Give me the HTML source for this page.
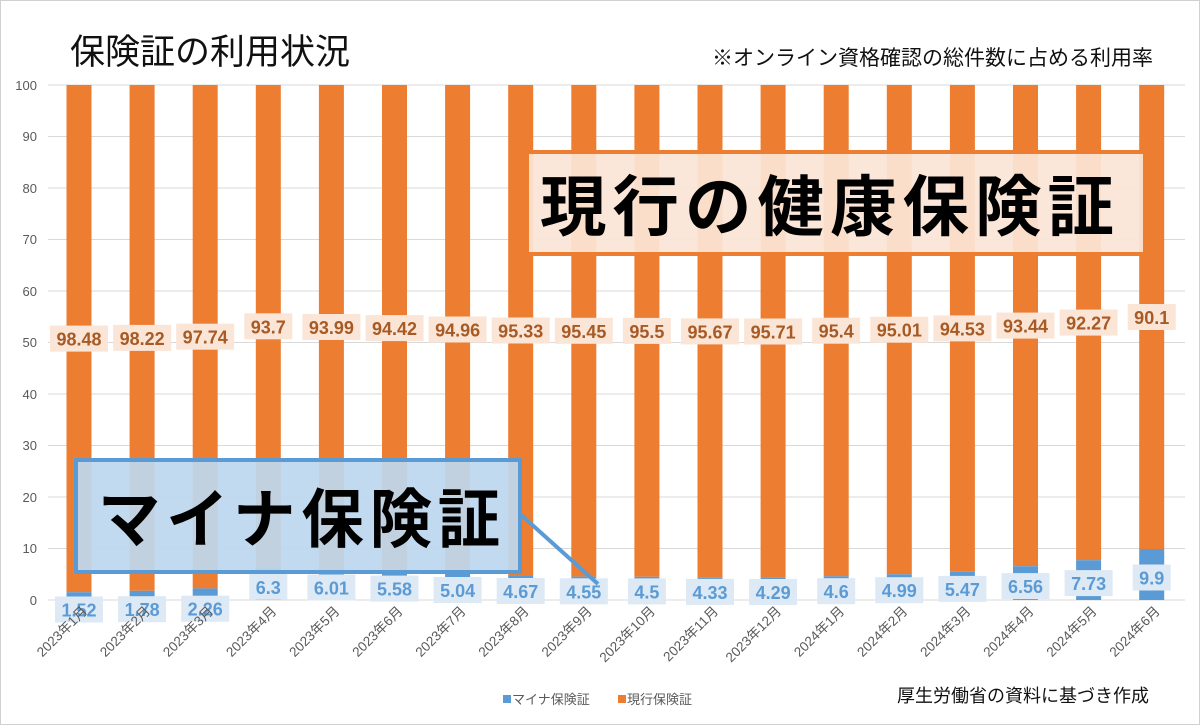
<!DOCTYPE html>
<html><head><meta charset="utf-8"><style>
body{margin:0;background:#fff;}
svg{display:block;font-family:"Liberation Sans","Noto Sans CJK JP",sans-serif;}
.o{fill:#ed7d31}.b{fill:#5b9bd5}.ol{fill:#fbe5d6}.bl{fill:#dde9f5}
.ot{font-size:18px;font-weight:bold;fill:#a85a24;text-anchor:middle}
.bt{font-size:18px;font-weight:bold;fill:#5b9bd5;text-anchor:middle}
.ax{font-size:13.5px;fill:#595959;text-anchor:end}
</style></head><body>
<svg width="1200" height="725" viewBox="0 0 1200 725" xmlns="http://www.w3.org/2000/svg">
<rect x="0.5" y="0.5" width="1199" height="724" fill="#fff" stroke="#d0d0d0"/>
<text x="70" y="64" font-size="35" fill="#111">保険証の利用状況</text>
<text x="712" y="65" font-size="21" fill="#111">※オンライン資格確認の総件数に占める利用率</text>
<g stroke="#d9d9d9" stroke-width="1">
<line x1="48" y1="600" x2="1185" y2="600"/><line x1="48" y1="548.5" x2="1185" y2="548.5"/>
<line x1="48" y1="497" x2="1185" y2="497"/><line x1="48" y1="445.5" x2="1185" y2="445.5"/>
<line x1="48" y1="394" x2="1185" y2="394"/><line x1="48" y1="342.5" x2="1185" y2="342.5"/>
<line x1="48" y1="291" x2="1185" y2="291"/><line x1="48" y1="239.5" x2="1185" y2="239.5"/>
<line x1="48" y1="188" x2="1185" y2="188"/><line x1="48" y1="136.5" x2="1185" y2="136.5"/>
<line x1="48" y1="85" x2="1185" y2="85"/>
</g>
<g font-size="13" fill="#595959" text-anchor="end">
<text x="37" y="605">0</text><text x="37" y="553">10</text><text x="37" y="502">20</text>
<text x="37" y="450">30</text><text x="37" y="399">40</text><text x="37" y="347">50</text>
<text x="37" y="296">60</text><text x="37" y="244">70</text><text x="37" y="193">80</text>
<text x="37" y="141">90</text><text x="37" y="90">100</text>
</g>

<g transform="translate(79,0)"><rect class="o" x="-12.5" y="85" width="25" height="507.2"/><rect class="b" x="-12.5" y="592.2" width="25" height="7.8"/>
<rect class="ol" x="-29" y="325.6" width="58" height="26"/><text class="ot" x="0" y="345.6">98.48</text>
<rect class="bl" x="-24" y="596.5" width="48" height="26"/><text class="bt" x="0" y="616.5">1.52</text>
<text class="ax" transform="translate(9,612) rotate(-45)">2023年1月</text></g>

<g transform="translate(142.1,0)"><rect class="o" x="-12.5" y="85" width="25" height="505.8"/><rect class="b" x="-12.5" y="590.8" width="25" height="9.2"/>
<rect class="ol" x="-29" y="324.9" width="58" height="26"/><text class="ot" x="0" y="344.9">98.22</text>
<rect class="bl" x="-24" y="596.2" width="48" height="26"/><text class="bt" x="0" y="616.2">1.78</text>
<text class="ax" transform="translate(9,612) rotate(-45)">2023年2月</text></g>

<g transform="translate(205.2,0)"><rect class="o" x="-12.5" y="85" width="25" height="503.4"/><rect class="b" x="-12.5" y="588.4" width="25" height="11.6"/>
<rect class="ol" x="-29" y="323.7" width="58" height="26"/><text class="ot" x="0" y="343.7">97.74</text>
<rect class="bl" x="-24" y="595.7" width="48" height="26"/><text class="bt" x="0" y="615.7">2.26</text>
<text class="ax" transform="translate(9,612) rotate(-45)">2023年3月</text></g>

<g transform="translate(268.3,0)"><rect class="o" x="-12.5" y="85" width="25" height="482.6"/><rect class="b" x="-12.5" y="567.6" width="25" height="32.4"/>
<rect class="ol" x="-24" y="313.3" width="48" height="26"/><text class="ot" x="0" y="333.3">93.7</text>
<rect class="bl" x="-19" y="573.8" width="38" height="26"/><text class="bt" x="0" y="593.8">6.3</text>
<text class="ax" transform="translate(9,612) rotate(-45)">2023年4月</text></g>

<g transform="translate(331.4,0)"><rect class="o" x="-12.5" y="85" width="25" height="484"/><rect class="b" x="-12.5" y="569" width="25" height="31"/>
<rect class="ol" x="-29" y="314" width="58" height="26"/><text class="ot" x="0" y="334">93.99</text>
<rect class="bl" x="-24" y="574.5" width="48" height="26"/><text class="bt" x="0" y="594.5">6.01</text>
<text class="ax" transform="translate(9,612) rotate(-45)">2023年5月</text></g>

<g transform="translate(394.5,0)"><rect class="o" x="-12.5" y="85" width="25" height="486.3"/><rect class="b" x="-12.5" y="571.3" width="25" height="28.7"/>
<rect class="ol" x="-29" y="315.1" width="58" height="26"/><text class="ot" x="0" y="335.1">94.42</text>
<rect class="bl" x="-24" y="575.6" width="48" height="26"/><text class="bt" x="0" y="595.6">5.58</text>
<text class="ax" transform="translate(9,612) rotate(-45)">2023年6月</text></g>

<g transform="translate(457.6,0)"><rect class="o" x="-12.5" y="85" width="25" height="489"/><rect class="b" x="-12.5" y="574" width="25" height="26"/>
<rect class="ol" x="-29" y="316.5" width="58" height="26"/><text class="ot" x="0" y="336.5">94.96</text>
<rect class="bl" x="-24" y="577" width="48" height="26"/><text class="bt" x="0" y="597">5.04</text>
<text class="ax" transform="translate(9,612) rotate(-45)">2023年7月</text></g>

<g transform="translate(520.7,0)"><rect class="o" x="-12.5" y="85" width="25" height="491"/><rect class="b" x="-12.5" y="576" width="25" height="24"/>
<rect class="ol" x="-29" y="317.5" width="58" height="26"/><text class="ot" x="0" y="337.5">95.33</text>
<rect class="bl" x="-24" y="578" width="48" height="26"/><text class="bt" x="0" y="598">4.67</text>
<text class="ax" transform="translate(9,612) rotate(-45)">2023年8月</text></g>

<g transform="translate(583.8,0)"><rect class="o" x="-12.5" y="85" width="25" height="491.6"/><rect class="b" x="-12.5" y="576.6" width="25" height="23.4"/>
<rect class="ol" x="-29" y="317.8" width="58" height="26"/><text class="ot" x="0" y="337.8">95.45</text>
<rect class="bl" x="-24" y="578.3" width="48" height="26"/><text class="bt" x="0" y="598.3">4.55</text>
<text class="ax" transform="translate(9,612) rotate(-45)">2023年9月</text></g>

<g transform="translate(646.9,0)"><rect class="o" x="-12.5" y="85" width="25" height="491.8"/><rect class="b" x="-12.5" y="576.8" width="25" height="23.2"/>
<rect class="ol" x="-24" y="317.9" width="48" height="26"/><text class="ot" x="0" y="337.9">95.5</text>
<rect class="bl" x="-19" y="578.4" width="38" height="26"/><text class="bt" x="0" y="598.4">4.5</text>
<text class="ax" transform="translate(9,612) rotate(-45)">2023年10月</text></g>

<g transform="translate(710,0)"><rect class="o" x="-12.5" y="85" width="25" height="492.7"/><rect class="b" x="-12.5" y="577.7" width="25" height="22.3"/>
<rect class="ol" x="-29" y="318.4" width="58" height="26"/><text class="ot" x="0" y="338.4">95.67</text>
<rect class="bl" x="-24" y="578.9" width="48" height="26"/><text class="bt" x="0" y="598.9">4.33</text>
<text class="ax" transform="translate(9,612) rotate(-45)">2023年11月</text></g>

<g transform="translate(773.1,0)"><rect class="o" x="-12.5" y="85" width="25" height="492.9"/><rect class="b" x="-12.5" y="577.9" width="25" height="22.1"/>
<rect class="ol" x="-29" y="318.5" width="58" height="26"/><text class="ot" x="0" y="338.5">95.71</text>
<rect class="bl" x="-24" y="579" width="48" height="26"/><text class="bt" x="0" y="599">4.29</text>
<text class="ax" transform="translate(9,612) rotate(-45)">2023年12月</text></g>

<g transform="translate(836.2,0)"><rect class="o" x="-12.5" y="85" width="25" height="491.3"/><rect class="b" x="-12.5" y="576.3" width="25" height="23.7"/>
<rect class="ol" x="-24" y="317.7" width="48" height="26"/><text class="ot" x="0" y="337.7">95.4</text>
<rect class="bl" x="-19" y="578.2" width="38" height="26"/><text class="bt" x="0" y="598.2">4.6</text>
<text class="ax" transform="translate(9,612) rotate(-45)">2024年1月</text></g>

<g transform="translate(899.3,0)"><rect class="o" x="-12.5" y="85" width="25" height="489.3"/><rect class="b" x="-12.5" y="574.3" width="25" height="25.7"/>
<rect class="ol" x="-29" y="316.7" width="58" height="26"/><text class="ot" x="0" y="336.7">95.01</text>
<rect class="bl" x="-24" y="577.2" width="48" height="26"/><text class="bt" x="0" y="597.2">4.99</text>
<text class="ax" transform="translate(9,612) rotate(-45)">2024年2月</text></g>

<g transform="translate(962.4,0)"><rect class="o" x="-12.5" y="85" width="25" height="486.8"/><rect class="b" x="-12.5" y="571.8" width="25" height="28.2"/>
<rect class="ol" x="-29" y="315.4" width="58" height="26"/><text class="ot" x="0" y="335.4">94.53</text>
<rect class="bl" x="-24" y="575.9" width="48" height="26"/><text class="bt" x="0" y="595.9">5.47</text>
<text class="ax" transform="translate(9,612) rotate(-45)">2024年3月</text></g>

<g transform="translate(1025.5,0)"><rect class="o" x="-12.5" y="85" width="25" height="481.2"/><rect class="b" x="-12.5" y="566.2" width="25" height="33.8"/>
<rect class="ol" x="-29" y="312.6" width="58" height="26"/><text class="ot" x="0" y="332.6">93.44</text>
<rect class="bl" x="-24" y="573.1" width="48" height="26"/><text class="bt" x="0" y="593.1">6.56</text>
<text class="ax" transform="translate(9,612) rotate(-45)">2024年4月</text></g>

<g transform="translate(1088.6,0)"><rect class="o" x="-12.5" y="85" width="25" height="475.2"/><rect class="b" x="-12.5" y="560.2" width="25" height="39.8"/>
<rect class="ol" x="-29" y="309.6" width="58" height="26"/><text class="ot" x="0" y="329.6">92.27</text>
<rect class="bl" x="-24" y="570.1" width="48" height="26"/><text class="bt" x="0" y="590.1">7.73</text>
<text class="ax" transform="translate(9,612) rotate(-45)">2024年5月</text></g>

<g transform="translate(1151.7,0)"><rect class="o" x="-12.5" y="85" width="25" height="464"/><rect class="b" x="-12.5" y="549" width="25" height="51"/>
<rect class="ol" x="-24" y="304" width="48" height="26"/><text class="ot" x="0" y="324">90.1</text>
<rect class="bl" x="-19" y="564.5" width="38" height="26"/><text class="bt" x="0" y="584.5">9.9</text>
<text class="ax" transform="translate(9,612) rotate(-45)">2024年6月</text></g>

<rect x="527" y="152" width="618" height="102" fill="#fbe5d6" fill-opacity="0.93" stroke="#ed7d31" stroke-width="4"/>
<text x="540" y="230" font-size="66" font-weight="bold" fill="#000" letter-spacing="6" textLength="580" lengthAdjust="spacingAndGlyphs">現行の健康保険証</text>
<line x1="519" y1="513" x2="598" y2="584" stroke="#5b9bd5" stroke-width="4"/>
<rect x="76" y="460" width="444" height="112" fill="#bdd7ee" fill-opacity="0.93" stroke="#5b9bd5" stroke-width="4"/>
<text x="98" y="542" font-size="64" font-weight="bold" fill="#000" letter-spacing="6" textLength="408" lengthAdjust="spacingAndGlyphs">マイナ保険証</text>
<rect x="503" y="695" width="8" height="8" fill="#5b9bd5"/>
<text x="512" y="704" font-size="13" fill="#595959">マイナ保険証</text>
<rect x="618" y="695" width="8" height="8" fill="#ed7d31"/>
<text x="627" y="704" font-size="13" fill="#595959">現行保険証</text>
<text x="897" y="702" font-size="18" fill="#111">厚生労働省の資料に基づき作成</text>
</svg>
</body></html>
